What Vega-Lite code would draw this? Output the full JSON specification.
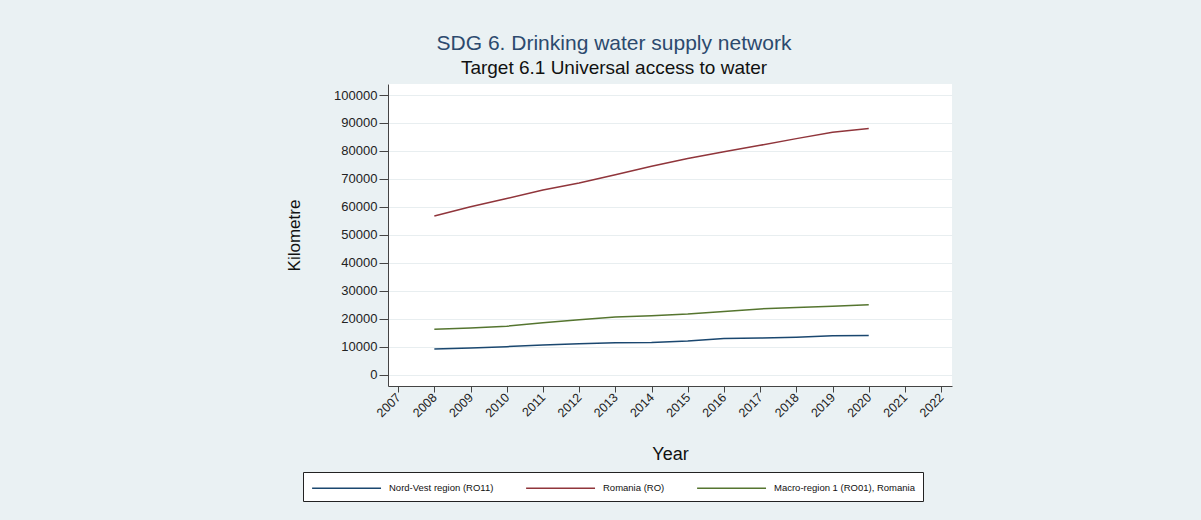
{
  "$schema": "https://vega.github.io/schema/vega-lite/v6.json",
  "width": 564,
  "height": 302,
  "autosize": {"type": "none"},
  "padding": {"left": 388, "top": 84, "right": 249, "bottom": 134},
  "background": "#eaf1f3",
  "title": {
    "text": "SDG 6. Drinking water supply network",
    "subtitle": "Target 6.1 Universal access to water",
    "anchor": "middle",
    "dx": -56,
    "offset": 6,
    "font": "Liberation Sans",
    "fontSize": 21,
    "fontWeight": "normal",
    "color": "#2c4a6e",
    "subtitleFont": "Liberation Sans",
    "subtitleFontSize": 19,
    "subtitleColor": "#111111",
    "subtitlePadding": 5
  },
  "config": {
    "view": {"fill": "white", "stroke": null},
    "axis": {
      "labelFont": "Liberation Sans",
      "titleFont": "Liberation Sans",
      "labelColor": "#222222",
      "titleColor": "#111111",
      "domainColor": "#444444",
      "tickColor": "#444444",
      "titleFontWeight": "normal"
    }
  },
  "data": {
    "values": [
      {"year": 2008, "series": "Nord-Vest region (RO11)", "value": 9180},
      {"year": 2009, "series": "Nord-Vest region (RO11)", "value": 9530},
      {"year": 2010, "series": "Nord-Vest region (RO11)", "value": 10000},
      {"year": 2011, "series": "Nord-Vest region (RO11)", "value": 10600},
      {"year": 2012, "series": "Nord-Vest region (RO11)", "value": 11050},
      {"year": 2013, "series": "Nord-Vest region (RO11)", "value": 11400},
      {"year": 2014, "series": "Nord-Vest region (RO11)", "value": 11500},
      {"year": 2015, "series": "Nord-Vest region (RO11)", "value": 12000},
      {"year": 2016, "series": "Nord-Vest region (RO11)", "value": 12950},
      {"year": 2017, "series": "Nord-Vest region (RO11)", "value": 13050},
      {"year": 2018, "series": "Nord-Vest region (RO11)", "value": 13400},
      {"year": 2019, "series": "Nord-Vest region (RO11)", "value": 13900},
      {"year": 2020, "series": "Nord-Vest region (RO11)", "value": 14000},
      {"year": 2008, "series": "Romania (RO)", "value": 56700},
      {"year": 2009, "series": "Romania (RO)", "value": 60000},
      {"year": 2010, "series": "Romania (RO)", "value": 63000},
      {"year": 2011, "series": "Romania (RO)", "value": 66000},
      {"year": 2012, "series": "Romania (RO)", "value": 68500},
      {"year": 2013, "series": "Romania (RO)", "value": 71500},
      {"year": 2014, "series": "Romania (RO)", "value": 74500},
      {"year": 2015, "series": "Romania (RO)", "value": 77300},
      {"year": 2016, "series": "Romania (RO)", "value": 79700},
      {"year": 2017, "series": "Romania (RO)", "value": 82000},
      {"year": 2018, "series": "Romania (RO)", "value": 84400},
      {"year": 2019, "series": "Romania (RO)", "value": 86700},
      {"year": 2020, "series": "Romania (RO)", "value": 88000},
      {"year": 2008, "series": "Macro-region 1 (RO01), Romania", "value": 16240},
      {"year": 2009, "series": "Macro-region 1 (RO01), Romania", "value": 16700},
      {"year": 2010, "series": "Macro-region 1 (RO01), Romania", "value": 17300},
      {"year": 2011, "series": "Macro-region 1 (RO01), Romania", "value": 18500},
      {"year": 2012, "series": "Macro-region 1 (RO01), Romania", "value": 19650},
      {"year": 2013, "series": "Macro-region 1 (RO01), Romania", "value": 20600},
      {"year": 2014, "series": "Macro-region 1 (RO01), Romania", "value": 21050},
      {"year": 2015, "series": "Macro-region 1 (RO01), Romania", "value": 21650},
      {"year": 2016, "series": "Macro-region 1 (RO01), Romania", "value": 22600},
      {"year": 2017, "series": "Macro-region 1 (RO01), Romania", "value": 23500},
      {"year": 2018, "series": "Macro-region 1 (RO01), Romania", "value": 24000},
      {"year": 2019, "series": "Macro-region 1 (RO01), Romania", "value": 24450},
      {"year": 2020, "series": "Macro-region 1 (RO01), Romania", "value": 24950}
    ]
  },
  "mark": {"type": "line", "strokeWidth": 1.5},
  "encoding": {
    "x": {
      "field": "year",
      "type": "quantitative",
      "scale": {"domain": [2006.72, 2022.3], "nice": false, "zero": false},
      "axis": {
        "title": "Year",
        "values": [2007, 2008, 2009, 2010, 2011, 2012, 2013, 2014, 2015, 2016, 2017, 2018, 2019, 2020, 2021, 2022],
        "format": "d",
        "grid": false,
        "labelAngle": -45,
        "labelAlign": "right",
        "labelBaseline": "middle",
        "labelFontSize": 12.5,
        "labelPadding": 3,
        "tickSize": 6,
        "titleFontSize": 18,
        "titlePadding": 26
      }
    },
    "y": {
      "field": "value",
      "type": "quantitative",
      "scale": {"domain": [-4080, 103940], "nice": false, "zero": false},
      "axis": {
        "title": "Kilometre",
        "values": [0, 10000, 20000, 30000, 40000, 50000, 60000, 70000, 80000, 90000, 100000],
        "format": "d",
        "grid": true,
        "gridColor": "#e8eef0",
        "gridWidth": 1,
        "labelFontSize": 13,
        "labelPadding": 2,
        "tickSize": 9,
        "titleFontSize": 17,
        "titlePadding": 30
      }
    },
    "color": {
      "field": "series",
      "type": "nominal",
      "scale": {
        "domain": ["Nord-Vest region (RO11)", "Romania (RO)", "Macro-region 1 (RO01), Romania"],
        "range": ["#1a476f", "#90353b", "#55752f"]
      },
      "legend": {
        "title": null,
        "orient": "none",
        "legendX": -85,
        "legendY": 388,
        "direction": "horizontal",
        "fillColor": "white",
        "strokeColor": "#222222",
        "padding": 8,
        "symbolType": "M-1,0H9",
        "symbolSize": 190,
        "symbolStrokeWidth": 1.5,
        "labelFont": "Liberation Sans",
        "labelFontSize": 9.5,
        "labelColor": "#111111",
        "labelOffset": 62,
        "columnPadding": 29
      }
    }
  }
}
